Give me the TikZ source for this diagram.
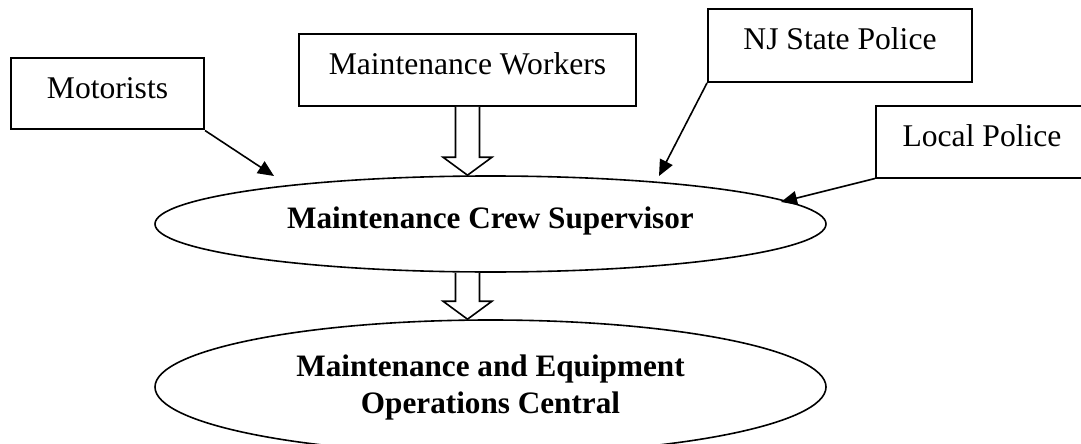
\documentclass[tikz,border=0pt]{standalone}
\usepackage{fontspec}
\setmainfont{Liberation Serif}
\usetikzlibrary{shapes.geometric,arrows.meta,calc}
\begin{document}
\begin{tikzpicture}[x=0.5pt,y=-0.5pt,
  font=\fontsize{15.8}{18.5}\selectfont,
  srcbox/.style={draw,line width=1pt,rectangle,anchor=north west,inner xsep=0pt,inner ysep=0pt,
    text height=20.25pt,text depth=15.5pt},
  oval/.style={draw,line width=0.8pt,ellipse,inner sep=0pt,font=\fontsize{15.6}{18.5}\selectfont\bfseries,align=center},
  ptr/.style={line width=0.8pt,-{Triangle[length=8pt,width=7pt]}},
  hollowarrow/.style={draw,line width=0.8pt,fill=white,line join=miter}
]
\useasboundingbox (0,0) rectangle (1081,444);
\node[srcbox,minimum width=96.5pt] (mot) at (10,57) {Motorists};
\node[srcbox,minimum width=168.5pt,text depth=15.75pt] (wk) at (298,33) {Maintenance Workers};
\node[srcbox,minimum width=106pt] (lp) at (875,105) {Local Police};
\node[srcbox,minimum width=132pt,text depth=16.25pt] (nj) at (707,8) {NJ State Police};
\node[oval,minimum width=335.5pt,minimum height=48pt,text height=10pt,text depth=6pt] (sup) at (490.5,224) {Maintenance Crew Supervisor};
\node[oval,minimum width=335.5pt,minimum height=67pt] (mec) at (490.5,387) {Maintenance and Equipment\\Operations Central};
\coordinate (tm) at (274,176);
\coordinate (tn) at (659,176);
\coordinate (tl) at (781,202);
\draw[ptr] (mot.south east) -- (tm);
\draw[ptr] (nj.south west) -- (tn);
\draw[ptr] (lp.south west) -- (tl);
\coordinate (a1) at (wk.south);
\coordinate (b1) at (wk.south |- sup.north);
\coordinate (a2) at (wk.south |- sup.south);
\coordinate (b2) at (wk.south |- mec.north);
\foreach \s/\t in {a1/b1,a2/b2}{
  \draw[hollowarrow] ($(\s)+(-12,0)$) -- ($(\t)+(-12,-18)$) -- ($(\t)+(-24.5,-18)$) -- (\t)
     -- ($(\t)+(24.5,-18)$) -- ($(\t)+(12,-18)$) -- ($(\s)+(12,0)$);
}
\end{tikzpicture}
\end{document}
